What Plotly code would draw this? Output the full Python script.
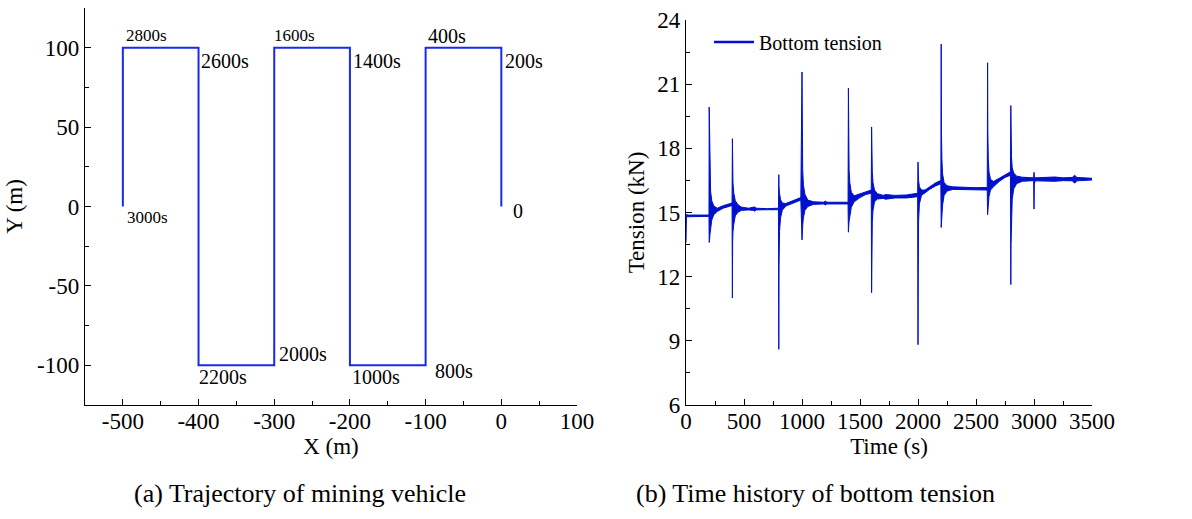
import plotly.graph_objects as go

# ---------------- data ----------------
# (a) trajectory of the mining vehicle (corner points) and time labels
traj_x = [0, 0, -100, -100, -200, -200, -300, -300, -400, -400, -500, -500]
traj_y = [0, 100, 100, -100, -100, 100, 100, -100, -100, 100, 100, 0]
traj_labels = ["0", "200s", "400s", "800s", "1000s", "1400s", "1600s",
               "2000s", "2200s", "2600s", "2800s", "3000s"]

# axis ticks (a)
xa_ticks = [-500, -400, -300, -200, -100, 0, 100]
xa_text = ["-500", "-400", "-300", "-200", "-100", "0", "100"]
ya_ticks = [-100, -50, 0, 50, 100]
ya_text = ["-100", "-50", "0", "50", "100"]

# (b) bottom tension: envelope of the dense oscillating signal
env_t = [0, 4, 20, 198, 200, 203, 206, 212, 222, 240, 270, 320, 370, 397,
         400, 402, 405, 412, 425, 450, 480, 540, 580, 592, 605, 700, 797,
         800, 802, 806, 815, 830, 860, 920, 990,
         1000, 1002, 1006, 1012, 1025, 1050, 1100, 1190, 1200, 1215, 1397,
         1400, 1402, 1406, 1412, 1425, 1450, 1500, 1550, 1597,
         1600, 1602, 1606, 1612, 1625, 1650, 1700, 1720, 1800, 1900, 1997,
         2000, 2002, 2005, 2012, 2030, 2060, 2100, 2150, 2197,
         2200, 2202, 2206, 2212, 2225, 2250, 2300, 2400, 2500, 2597,
         2600, 2602, 2606, 2612, 2625, 2650, 2700, 2750, 2797,
         2800, 2802, 2806, 2812, 2825, 2850, 2900, 2997,
         3000, 3003, 3010, 3100, 3180, 3250, 3330, 3350, 3370, 3500]
env_upper = [14.88, 14.9, 14.88, 14.88, 19.93, 18.5, 17.0, 16.0, 15.55, 15.3, 15.2, 15.32, 15.4, 15.45,
             18.45, 17.2, 16.4, 15.9, 15.55, 15.35, 15.25, 15.2, 15.22, 15.26, 15.2, 15.18, 15.2,
             16.77, 16.2, 15.9, 15.6, 15.45, 15.42, 15.55, 15.7,
             21.57, 18.2, 17.0, 16.3, 15.85, 15.58, 15.5, 15.48, 15.54, 15.48, 15.48,
             20.81, 18.2, 17.0, 16.4, 15.95, 15.78, 15.87, 15.98, 16.05,
             19.0, 17.6, 16.9, 16.4, 16.05, 15.88, 15.8, 15.84, 15.8, 15.82, 15.9,
             17.36, 16.9, 16.5, 16.2, 16.05, 16.05, 16.2, 16.38, 16.5,
             22.87, 18.8, 17.5, 16.8, 16.4, 16.25, 16.2, 16.17, 16.16, 16.17,
             22.0, 18.8, 17.5, 16.9, 16.55, 16.45, 16.6, 16.77, 16.9,
             20.0, 18.3, 17.6, 17.1, 16.85, 16.7, 16.65, 16.62,
             16.88, 16.7, 16.62, 16.65, 16.66, 16.62, 16.64, 16.74, 16.64, 16.6]
env_lower = [13.6, 14.8, 14.82, 14.82, 13.6, 13.7, 13.95, 14.3, 14.65, 14.9, 15.05, 15.2, 15.28, 15.33,
             11.0, 13.6, 14.1, 14.45, 14.85, 15.02, 15.1, 15.12, 15.1, 15.06, 15.12, 15.13, 15.13,
             8.6, 12.5, 14.1, 14.75, 15.1, 15.3, 15.43, 15.58,
             13.72, 14.0, 14.4, 14.75, 15.1, 15.28, 15.38, 15.4, 15.35, 15.4, 15.4,
             14.08, 14.3, 14.6, 14.9, 15.25, 15.5, 15.7, 15.84, 15.9,
             11.25, 13.4, 14.6, 15.1, 15.5, 15.63, 15.66, 15.62, 15.68, 15.68, 15.74,
             8.82, 12.0, 14.6, 15.4, 15.8, 15.94, 16.08, 16.24, 16.34,
             14.3, 14.6, 15.0, 15.35, 15.8, 16.0, 16.08, 16.09, 16.07, 16.05,
             14.9, 15.1, 15.45, 15.75, 16.05, 16.2, 16.45, 16.64, 16.74,
             11.63, 13.5, 14.8, 15.6, 16.1, 16.35, 16.46, 16.49,
             15.16, 16.32, 16.48, 16.46, 16.46, 16.49, 16.48, 16.37, 16.48, 16.52]

# axis ticks (b)
xb_ticks = [0, 500, 1000, 1500, 2000, 2500, 3000, 3500]
yb_ticks = [6, 9, 12, 15, 18, 21, 24]

series_name = "Bottom tension"
caption_a = "(a) Trajectory of mining vehicle"
caption_b = "(b) Time history of bottom tension"

# ---------------- styles ----------------
FONT = "Liberation Serif, Times New Roman, serif"
TRAJ_COLOR = "#1a2ae8"
TEN_COLOR = "#0010cc"
W, H = 1192, 519

# label placement (xshift, yshift, font size) for each trajectory label
label_style = [(10, -4, 20), (2, -13, 20), (0, 12, 20), (7, -6, 20),
               (0, -12, 20), (1, -13, 20), (-2, 12, 17), (3, 11, 20),
               (-2, -12, 20), (0, -13, 20), (1, 12, 17), (2, -11, 17)]

fig = go.Figure()

fig.add_trace(go.Scatter(x=traj_x, y=traj_y, mode="lines",
                         line=dict(color=TRAJ_COLOR, width=2),
                         showlegend=False, xaxis="x", yaxis="y"))

poly_x = env_t + env_t[::-1]
poly_y = env_upper + env_lower[::-1]
fig.add_trace(go.Scatter(x=poly_x, y=poly_y, mode="lines", fill="toself",
                         fillcolor=TEN_COLOR, line=dict(color=TEN_COLOR, width=1),
                         showlegend=False, xaxis="x2", yaxis="y2"))
# legend entry
fig.add_trace(go.Scatter(x=[None], y=[None], mode="lines", name=series_name,
                         line=dict(color=TEN_COLOR, width=2.5),
                         xaxis="x2", yaxis="y2"))

annotations = []
for xv, yv, txt, (dx, dy, fs) in zip(traj_x, traj_y, traj_labels, label_style):
    annotations.append(dict(x=xv, y=yv, xref="x", yref="y", text=txt,
                            showarrow=False, xanchor="left", yanchor="middle",
                            xshift=dx, yshift=dy,
                            font=dict(family=FONT, size=fs, color="black")))
annotations.append(dict(x=300 / W, y=1 - 493 / H, xref="paper", yref="paper",
                        text=caption_a, showarrow=False, xanchor="center", yanchor="middle",
                        font=dict(family=FONT, size=26, color="black")))
annotations.append(dict(x=815 / W, y=1 - 493 / H, xref="paper", yref="paper",
                        text=caption_b, showarrow=False, xanchor="center", yanchor="middle",
                        font=dict(family=FONT, size=26, color="black")))

axis_common = dict(showline=True, linecolor="black", linewidth=1.3, ticks="inside",
                   ticklen=6, tickwidth=1.3, tickcolor="black", showgrid=False,
                   zeroline=False, automargin=False,
                   tickfont=dict(family=FONT, size=23, color="black"),
                   title_font=dict(family=FONT, size=23, color="black"))

minor_common = dict(ticks="inside", ticklen=4, tickwidth=1.3, tickcolor="black")

fig.update_layout(
    width=W, height=H, margin=dict(l=0, r=0, t=0, b=0, pad=0, autoexpand=False),
    paper_bgcolor="white", plot_bgcolor="white",
    showlegend=True,
    legend=dict(x=709 / W, y=1 - 42 / H, xanchor="left", yanchor="middle",
                bgcolor="rgba(0,0,0,0)", itemwidth=40,
                font=dict(family=FONT, size=20, color="black")),
    xaxis=dict(domain=[85 / W, 577 / W], anchor="y", range=[-550, 100],
               tickvals=xa_ticks, ticktext=xa_text, ticklabelstandoff=-5,
               title=dict(text="X (m)", standoff=2),
               minor=dict(dtick=50, **minor_common), **axis_common),
    yaxis=dict(domain=[1 - 405 / H, 1 - 8 / H], anchor="x", range=[-125, 125],
               tickvals=ya_ticks, ticktext=ya_text, ticklabelstandoff=0,
               title=dict(text="Y (m)", standoff=8),
               minor=dict(dtick=25, **minor_common), **axis_common),
    xaxis2=dict(domain=[686 / W, 1092 / W], anchor="y2", range=[0, 3500],
                tickvals=xb_ticks, ticklabelstandoff=-5,
                title=dict(text="Time (s)", standoff=1),
                minor=dict(dtick=250, **minor_common), **axis_common),
    yaxis2=dict(domain=[1 - 405 / H, 1 - 20 / H], anchor="x2", range=[6, 24],
                tickvals=yb_ticks, ticklabelstandoff=0,
                title=dict(text="Tension (kN)", standoff=6),
                minor=dict(dtick=1.5, **minor_common), **axis_common),
    annotations=annotations,
)

fig.write_html("out.html")
